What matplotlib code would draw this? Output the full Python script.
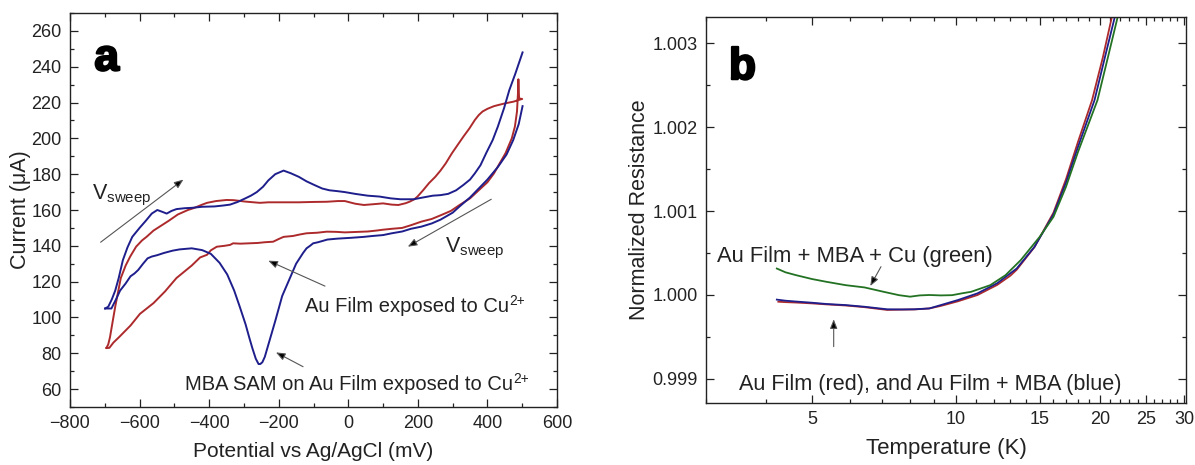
import matplotlib
matplotlib.use("Agg")
import matplotlib.pyplot as plt
import matplotlib.patheffects as pe
from matplotlib.ticker import FixedLocator, NullFormatter, MultipleLocator, FixedFormatter

plt.rcParams['font.family'] = ['Liberation Sans', 'DejaVu Sans']
plt.rcParams['mathtext.fontset'] = 'custom'
plt.rcParams['mathtext.rm'] = 'Liberation Sans'

# ---------------- Panel a data: cyclic voltammograms ----------------
# MBA SAM on Au film (blue): forward (anodic) and reverse branches
blue_fwd_x = [-699, -690, -680, -670, -660, -648, -635, -621, -600, -582, -565, -549, -535, -522, -508,
              -494, -470, -450, -420, -384, -360, -340, -318, -296, -280, -263, -245, -230, -210, -186,
              -165, -142, -120, -98, -75, -54, -30, -10, 20, 56, 90, 122, 150, 188, 215, 243, 265, 287,
              310, 331, 350, 364, 380, 397, 415, 430, 448, 463, 480, 501]
blue_fwd_y = [105, 106, 110, 115, 122, 132, 139, 145, 150, 154, 158, 160, 159, 158, 159.5,
              160.5, 161, 161.2, 161.8, 162, 162.5, 163, 164.5, 166.5, 168, 170, 173, 176.5, 180, 182,
              180.5, 178.5, 176, 174, 172, 171, 170.5, 170, 169, 168, 167.5, 166.5, 166, 166, 167, 168,
              168.3, 169, 171, 174, 177, 180.5, 185, 192, 199, 206.6, 217, 227, 236, 248]
blue_rev_x = [501, 490, 474, 455, 430, 400, 375, 350, 320, 300, 265, 240, 210, 180, 155, 125, 100, 70,
              45, 10, -32, -60, -87, -101, -110, -120, -130, -150, -170, -190, -210, -225, -240, -247,
              -253, -258, -266, -276, -285, -295, -312, -328, -348, -370, -395, -420, -450, -485, -505,
              -530, -549, -565, -577, -590, -604, -615, -626, -640, -656, -668, -681, -690, -699]
blue_rev_y = [218, 208, 199, 191, 184, 177, 172, 167, 162, 158.5, 154.6, 152.5, 150.7, 149.5, 148,
              147, 146, 145.5, 145, 144.5, 144, 143.5, 142, 141.4, 140, 138.6, 136, 130, 121, 112, 98,
              88, 78, 75, 74, 74, 77, 83, 89, 96, 106, 115, 124, 130.5, 135.5, 137.6, 138.6, 138,
              137.3, 136, 134.8, 134, 133, 130, 126.5, 124.5, 123, 119, 115, 110, 105, 105, 105]

# Bare Au film (red): closed loop
red_x = [-695, -690, -685, -678, -670, -662, -654, -640, -627, -610, -593, -580, -560, -540, -516,
         -490, -461, -445, -420, -406, -380, -350, -330, -296, -254, -230, -180, -142, -100, -62,
         -30, -10, 20, 45, 70, 100, 125, 144, 165, 177, 190, 199, 215, 232, 250, 265, 280, 298,
         315, 331, 348, 364, 375, 386, 400, 419, 435, 452, 475, 496, 500,
         491, 489, 488, 485, 479, 470, 452, 435, 419, 400, 375, 350, 320, 295, 265, 240, 210, 180,
         155, 125, 100, 80, 56, 30, -10, -35, -62, -90, -120, -140, -159, -186, -200, -216, -240,
         -260, -285, -310, -331, -340, -356, -378, -395, -406, -426, -450, -494, -527, -560, -599,
         -626, -659, -675, -687, -695]
red_y = [83, 85, 89, 97, 106, 114, 122, 129, 134, 139.5, 143, 145, 148.5, 151, 154,
         157.5, 160, 161, 163, 164, 165, 165.6, 165.5, 164.7, 164, 164.3, 164.3, 164.3, 164.5, 164.6,
         165, 165, 163.5, 162.8, 163.2, 163.7, 163, 162.8, 163.8, 164.7, 166, 167.5, 171, 175,
         178.5, 182, 186, 191.7, 196.5, 201, 205.5, 210.3, 213, 215, 216.5, 218, 218.8, 219.6,
         220.5, 221.8, 222,
         222.3, 233, 226, 215, 206.6, 200, 191.7, 186, 180.5, 175.5, 171, 166.5, 162.8, 159.5,
         157, 155, 153.5, 151.5, 150, 149.5, 149, 148.5, 148, 147.8, 147.5, 147.8, 147.9, 147.3,
         147, 146.3, 145.5, 145, 143.8, 142.3, 142, 141.6, 141.4, 141.2, 141.4, 140.5, 140, 139.5,
         137.5, 135, 133.5, 129, 122, 114.5, 108, 102, 95.5, 89, 86, 83, 83]

a_yticks = [60, 80, 100, 120, 140, 160, 180, 200, 220, 240, 260]

# ---------------- Panel b data: normalized resistance vs temperature ----------------
green_T = [4.22, 4.4, 4.63, 5.0, 5.36, 5.88, 6.44, 7.06, 7.6, 8.02, 8.4, 8.8, 9.3, 9.82, 10.3,
           10.76, 11.3, 11.8, 12.7, 13.66, 14.97, 16.0, 17.0, 18.0, 19.78, 20.8, 21.8, 22.1]
green_R = [1.000315, 1.00027, 1.000236, 1.00019, 1.000157, 1.000117, 1.00009, 1.000038, 0.999998,
           0.99998, 0.999995, 1.0, 0.999995, 0.999998, 1.00002, 1.000038, 1.00008, 1.000117,
           1.000236, 1.000414, 1.000692, 1.00093, 1.00129, 1.0017, 1.00232, 1.00283, 1.00331, 1.00345]

red_T = [4.25, 4.4, 4.63, 5.0, 5.36, 5.88, 6.44, 7.18, 7.7, 8.2, 8.8, 9.3, 10.1, 11.1, 12.2,
         13.0, 13.4, 14.6, 16.0, 17.0, 18.0, 19.27, 20.3, 21.2, 21.5]
red_R = [0.99992, 0.999915, 0.99991, 0.9999, 0.999888, 0.999875, 0.999855, 0.999822, 0.999826,
         0.999828, 0.99984, 0.99987, 0.999925, 1.0, 1.00012, 1.00023, 1.0003, 1.00057, 1.00098,
         1.00138, 1.00182, 1.00232, 1.00283, 1.00331, 1.00345]

blue_T = [4.22, 4.4, 4.63, 5.0, 5.36, 5.88, 6.44, 7.18, 7.7, 8.2, 8.8, 9.3, 10.1, 11.1, 12.2,
          13.4, 14.6, 16.0, 17.0, 18.0, 19.5, 20.5, 21.5, 21.8]
blue_R = [0.999945, 0.999932, 0.999922, 0.999908, 0.999893, 0.99988, 0.99986, 0.99983, 0.999828,
          0.99983, 0.99984, 0.99988, 0.99994, 1.00002, 1.00014, 1.000315, 1.000573, 1.00096,
          1.00134, 1.00176, 1.00232, 1.00283, 1.00331, 1.00345]

b_major_ticks = [5, 10, 15, 20, 25, 30]
b_major_labels = ['5', '10', '15', '20', '25', '30']
b_minor_ticks = [3, 4, 6, 7, 8, 9, 11, 12, 13, 14, 16, 17, 18, 19, 21, 22, 23, 24, 26, 27, 28, 29]
b_yticks = [0.999, 1.000, 1.001, 1.002, 1.003]
b_ylabels = ['0.999', '1.000', '1.001', '1.002', '1.003']
b_yminor = [0.9985, 0.9995, 1.0005, 1.0015, 1.0025]

RED = '#ad2a2c'
BLUE = '#1e1e8c'
GREEN = '#237223'
TXT = '#222222'

fig = plt.figure(figsize=(11.95, 4.65), dpi=100)
ax1 = fig.add_axes([70/1195, 58/465, 487/1195, 394/465])
ax2 = fig.add_axes([706/1195, 62/465, 480/1195, 386/465])

for ax in (ax1, ax2):
    for s in ax.spines.values():
        s.set_linewidth(1.0)
        s.set_color(TXT)
    ax.tick_params(which='both', direction='in', top=True, right=True, width=0.9,
                   colors=TXT, labelcolor=TXT, labelsize=13, pad=6)
    ax.tick_params(which='major', length=5.5)
    ax.tick_params(which='minor', length=3)


def sup_label(ax, x, y, main, sup, fs, dx=0.6):
    t = ax.text(x, y, main, fontsize=fs, color=TXT)
    ax.annotate(sup, xy=(1.0, 0.80), xycoords=t, xytext=(dx, 0), textcoords='offset points',
                fontsize=fs * 0.68, ha='left', va='center', color=TXT)
    return t


bold_fx = [pe.withStroke(linewidth=1.6, foreground='black')]

# ---- panel a ----
ax1.plot(red_x, red_y, color=RED, lw=1.4)
ax1.plot(blue_fwd_x, blue_fwd_y, color=BLUE, lw=1.4)
ax1.plot(blue_rev_x, blue_rev_y, color=BLUE, lw=1.4)
ax1.set_xlim(-800, 600)
ax1.set_ylim(50, 270)
ax1.xaxis.set_major_locator(MultipleLocator(200))
ax1.xaxis.set_minor_locator(MultipleLocator(100))
ax1.yaxis.set_major_locator(FixedLocator(a_yticks))
ax1.yaxis.set_minor_locator(MultipleLocator(10))
ax1.set_xlabel('Potential vs Ag/AgCl (mV)', fontsize=15, labelpad=7, color=TXT)
ax1.set_ylabel('Current (\u03bcA)', fontsize=15.5, labelpad=0, color=TXT)

ax1.text(-730, 238, 'a', fontsize=32, fontweight='bold', color='black', path_effects=bold_fx)
ax1.text(-737, 166, r'V$_{\mathregular{sweep}}$', fontsize=15.5, color=TXT)
ax1.text(278, 136.5, r'V$_{\mathregular{sweep}}$', fontsize=15.5, color=TXT)
sup_label(ax1, -125, 103, 'Au Film exposed to Cu', '2+', 14.5)
sup_label(ax1, -469, 59.5, 'MBA SAM on Au Film exposed to Cu', '2+', 14.5, dx=0.0)

arrow_kw = dict(arrowstyle='-|>,head_length=0.55,head_width=0.22', fc='black', ec='#555555',
                lw=0.8, shrinkA=0, shrinkB=0)
ax1.annotate('', xy=(-474, 177), xytext=(-712, 142), arrowprops=arrow_kw)
ax1.annotate('', xy=(171, 139.5), xytext=(411, 166), arrowprops=arrow_kw)
ax1.annotate('', xy=(-230, 131.7), xytext=(-67, 117.5), arrowprops=arrow_kw)
ax1.annotate('', xy=(-208, 80.5), xytext=(-130, 72.5), arrowprops=arrow_kw)

# ---- panel b ----
ax2.plot(red_T, red_R, color=RED, lw=1.3)
ax2.plot(blue_T, blue_R, color=BLUE, lw=1.3)
ax2.plot(green_T, green_R, color=GREEN, lw=1.3)
ax2.set_xscale('log')
ax2.set_xlim(3, 30.3)
ax2.set_ylim(0.998714, 1.00331)
ax2.xaxis.set_major_locator(FixedLocator(b_major_ticks))
ax2.xaxis.set_major_formatter(FixedFormatter(b_major_labels))
ax2.xaxis.set_minor_locator(FixedLocator(b_minor_ticks))
ax2.xaxis.set_minor_formatter(NullFormatter())
ax2.yaxis.set_major_locator(FixedLocator(b_yticks))
ax2.yaxis.set_major_formatter(FixedFormatter(b_ylabels))
ax2.yaxis.set_minor_locator(FixedLocator(b_yminor))
ax2.set_xlabel('Temperature (K)', fontsize=16, labelpad=7, color=TXT)
ax2.set_ylabel('Normalized Resistance', fontsize=15.5, labelpad=1.5, color=TXT)

ax2.text(3.35, 1.00257, 'b', fontsize=32, fontweight='bold', color='black', path_effects=bold_fx)
ax2.text(3.17, 1.000396, 'Au Film + MBA + Cu (green)', fontsize=15.8, color=TXT)
ax2.text(3.51, 0.998869, 'Au Film (red), and Au Film + MBA (blue)', fontsize=15.6, color=TXT)
ax2.annotate('', xy=(6.62, 1.000107), xytext=(6.97, 1.000337), arrowprops=arrow_kw)
ax2.annotate('', xy=(5.55, 0.999711), xytext=(5.55, 0.999385), arrowprops=arrow_kw)

fig.savefig('out.png', dpi=100)
